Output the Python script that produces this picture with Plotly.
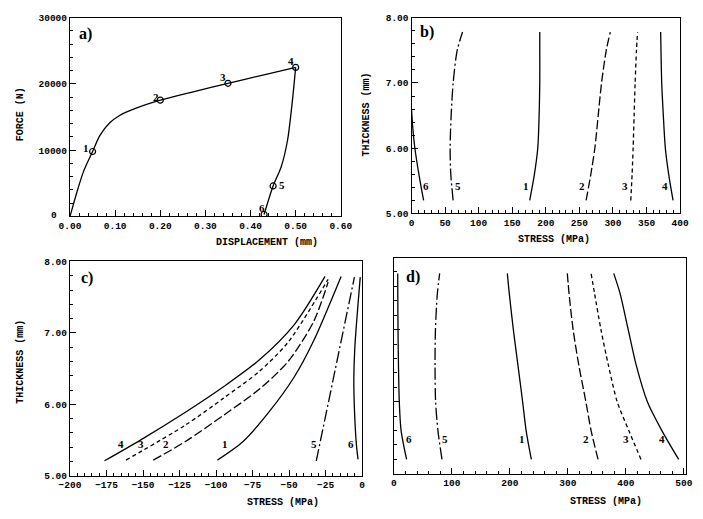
import plotly.graph_objects as go

# ---------------- DATA ----------------
# Panel a: force-displacement
disp_load = [0.0, 0.016, 0.03, 0.05, 0.066, 0.0875, 0.109, 0.145, 0.20, 0.275, 0.35, 0.425, 0.50]
force_load = [0, 3840, 6800, 9800, 12200, 14100, 15200, 16300, 17550, 18850, 20100, 21300, 22500]
disp_unload = [0.50, 0.492, 0.482, 0.468, 0.45, 0.43]
force_unload = [22500, 17000, 11500, 7500, 4600, 300]
pt_disp = [0.05, 0.20, 0.35, 0.50, 0.45, 0.43]
pt_force = [9800, 17550, 20100, 22500, 4600, 300]
pt_names = ["1", "2", "3", "4", "5", "6"]
pt_lab_disp = [0.036, 0.19, 0.339, 0.49, 0.47, 0.426]
pt_lab_force = [10400, 18000, 21000, 23500, 4700, 1300]
force_ticks = [10000, 20000, 30000]

# Thickness sampling (mm) for panels b, d
thick = [5.2, 5.6, 6.0, 6.5, 7.0, 7.5, 7.78]

# Panel b: stress (MPa) per curve
b_thick6 = [5.2, 5.6, 6.0, 6.3, 6.6]
b6 = [18, 11, 5, 2, 0]
b5 = [62, 58.5, 57.5, 59, 62, 68, 76]
b1 = [176, 183, 188, 190, 191, 191, 191]
b2 = [260, 267, 273, 278, 283, 290, 296]
b3 = [326.5, 328.5, 330, 331.5, 333, 335, 336.6]
b4 = [389.5, 383, 378, 375, 372.6, 371.5, 371]
b_lab_x = [171, 253.5, 318, 378, 68.7, 21.6]
b_lab_y = 5.42

# Panel c: each curve with its own thickness readings
c1_t = [5.22, 5.48, 5.89, 6.39, 6.89, 7.79]
c1 = [-99.1, -81.5, -63.9, -46.3, -33.2, -14.4]
c2_t = [5.22, 5.48, 5.85, 6.21, 6.60, 7.16, 7.71]
c2 = [-143, -121, -94.7, -70.5, -50.7, -33.2, -23.3]
c3_t = [5.22, 5.71, 6.09, 6.46, 6.87, 7.75]
c3 = [-161.7, -121, -94.7, -70.5, -50.7, -23.3]
c4_t = [5.21, 5.50, 5.89, 6.25, 6.62, 7.12, 7.79]
c4 = [-176.4, -151.8, -121, -94.7, -70.5, -46.3, -25.4]
c5_t = [5.21, 7.78]
c5 = [-31.4, -5.3]
c6_t = [5.23, 5.43, 5.89, 6.35, 6.8, 7.78]
c6 = [-2.8, -3.9, -5.2, -5.7, -5.0, -1.3]
c_lab_x = [-94, -134.2, -151.2, -165.4, -32.7, -7.8]
c_lab_y = 5.45

# Panel d
d1 = [237, 228, 222, 214, 206, 199, 195.6]
d2 = [352, 340, 331, 319, 309, 302, 299]
d3 = [426, 405, 385, 370, 357, 346, 340]
d4 = [491, 462, 437, 418, 404, 390, 379]
d5 = [83, 76, 72, 71, 71.7, 75, 79]
d6 = [22, 12.5, 9.4, 8, 7.2, 6.8, 6.7]
d_lab_x = [220.5, 331.7, 400, 463, 89, 26]
d_lab_y = 5.48

curve_names = ["1", "2", "3", "4", "5", "6"]

# ---------------- STYLES ----------------
LW = 1.3
dash_of = {"1": "solid", "2": "9px,3px", "3": "4px,3px", "4": "solid",
           "5": "12px,3px,2px,3px", "6": "solid"}
TICKFONT = dict(family="Liberation Mono", size=9.5, color="black", weight="bold")
TITLEFONT = dict(family="Liberation Mono", size=10, color="black", weight="bold")
NUMFONT = dict(family="Liberation Serif", size=11, color="black", weight="bold")
PANELFONT = dict(family="Liberation Serif", size=16, color="black", weight="bold")

fig = go.Figure()

def line(x, y, xa, ya, dash="solid"):
    fig.add_trace(go.Scatter(x=x, y=y, mode="lines", xaxis=xa, yaxis=ya,
                             line=dict(color="black", width=LW, dash=dash, shape="spline", smoothing=0.8),
                             showlegend=False, hoverinfo="skip"))

# Panel a
line(disp_load, force_load, "x", "y")
line(disp_unload, force_unload, "x", "y")
fig.add_trace(go.Scatter(x=pt_disp, y=pt_force, mode="markers", xaxis="x", yaxis="y",
                         marker=dict(symbol="circle-open", size=6, color="black", line=dict(width=1.2)),
                         showlegend=False, hoverinfo="skip"))
for n, lx, ly in zip(pt_names, pt_lab_disp, pt_lab_force):
    fig.add_annotation(x=lx, y=ly, xref="x", yref="y", text=n, showarrow=False, font=NUMFONT)

# Panel b
for n, s in zip(curve_names[:5], [b1, b2, b3, b4, b5]):
    line(s, thick, "x2", "y2", dash_of[n])
line(b6, b_thick6, "x2", "y2", dash_of["6"])
for n, lx in zip(curve_names, b_lab_x):
    fig.add_annotation(x=lx, y=b_lab_y, xref="x2", yref="y2", text=n, showarrow=False, font=NUMFONT)

# Panel c
for n, s, t in zip(curve_names, [c1, c2, c3, c4, c5, c6], [c1_t, c2_t, c3_t, c4_t, c5_t, c6_t]):
    line(s, t, "x3", "y3", dash_of[n])
for n, lx in zip(curve_names, c_lab_x):
    fig.add_annotation(x=lx, y=c_lab_y, xref="x3", yref="y3", text=n, showarrow=False, font=NUMFONT)

# Panel d
for n, s in zip(curve_names, [d1, d2, d3, d4, d5, d6]):
    line(s, thick, "x4", "y4", dash_of[n])
for n, lx in zip(curve_names, d_lab_x):
    fig.add_annotation(x=lx, y=d_lab_y, xref="x4", yref="y4", text=n, showarrow=False, font=NUMFONT)

def ax(domain, rng, dtick, minor, anchor, fmt=None, labels=True, tickvals=None):
    d = dict(domain=domain, range=rng, dtick=dtick, tick0=0, anchor=anchor,
             showgrid=False, zeroline=False, showline=True, linecolor="black", linewidth=1.2,
             mirror=True, ticks="inside", ticklen=6, tickwidth=1, tickcolor="black",
             tickfont=TICKFONT, showticklabels=labels,
             minor=dict(dtick=minor, ticks="inside", ticklen=3, tickwidth=1, tickcolor="black", showgrid=False))
    if fmt:
        d["tickformat"] = fmt
    if tickvals is not None:
        d["tickmode"] = "array"
        d["tickvals"] = tickvals
    return d

fig.update_layout(
    width=703, height=519, margin=dict(l=0, r=0, t=0, b=0),
    paper_bgcolor="white", plot_bgcolor="white",
    xaxis=ax([0.0868, 0.485], [0, 0.6], 0.1, 0.02, "y", fmt=".2f"),
    yaxis=ax([0.5838, 0.975], [0, 30000], 10000, 2000, "x", fmt="d", tickvals=force_ticks),
    xaxis2=ax([0.589, 0.984], [0, 400], 50, 10, "y2"),
    yaxis2=ax([0.5896, 0.975], [5, 8], 1, 0.2, "x2", fmt=".2f"),
    xaxis3=ax([0.0868, 0.5164], [-200, 0], 25, 5, "y3"),
    yaxis3=ax([0.0732, 0.4952], [5, 8], 1, 0.2, "x3", fmt=".2f"),
    xaxis4=ax([0.563, 0.993], [0, 504], 100, 20, "y4"),
    yaxis4=ax([0.0771, 0.5029], [5, 8], 1, 0.2, "x4", labels=False),
)
# major tick at force 0 is the axis corner; its "0" label sits lower-left as in the reference
fig.add_annotation(x=44 / 703, y=1 - 215 / 519, xref="paper", yref="paper", text="0",
                   showarrow=False, font=TICKFONT, xanchor="center", yanchor="middle")

# Axis titles
titles = [
    ("FORCE (N)", 0.014, 0.784, -90),
    ("DISPLACEMENT (mm)", 265 / 703, 1 - 243 / 519, 0),
    ("THICKNESS (mm)", 368 / 703, 1 - 112 / 519, -90),
    ("STRESS (MPa)", 561 / 703, 1 - 240 / 519, 0),
    ("THICKNESS (mm)", 0.014, 1 - 365 / 519, -90),
    ("STRESS (MPa)", 281 / 703, 1 - 508 / 519, 0),
    ("STRESS (MPa)", 615 / 703, 1 - 507 / 519, 0),
]
for t, x, y, a in titles:
    fig.add_annotation(x=x, y=y, xref="paper", yref="paper", text=t, showarrow=False,
                       textangle=a, font=TITLEFONT, xanchor="center", yanchor="middle")

panel_labels = [("a)", 77, 30), ("b)", 430, 28), ("c)", 79, 279), ("d)", 416, 278)]
for t, px, py in panel_labels:
    fig.add_annotation(x=px / 703, y=1 - py / 519, xref="paper", yref="paper", text=t,
                       showarrow=False, font=PANELFONT, xanchor="center", yanchor="middle")

fig.write_html("out.html")
